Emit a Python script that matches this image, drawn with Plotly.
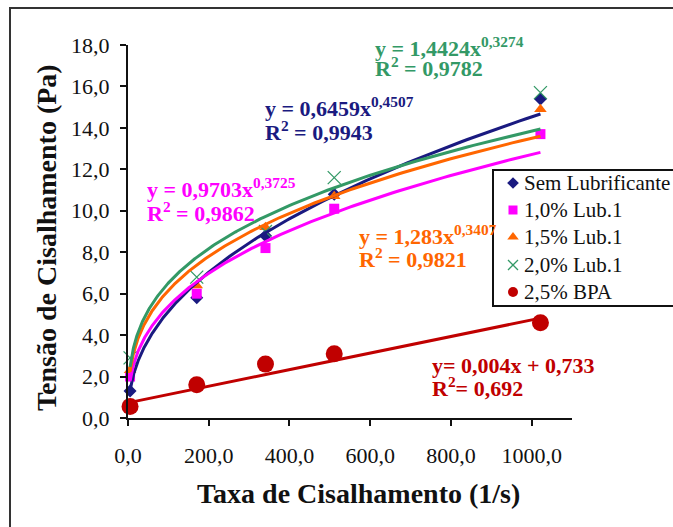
import numpy as np
import plotly.graph_objects as go

# Shear rate (1/s) of the rotational viscometer readings
shear_rate = [5.11, 170.3, 340.6, 510.9, 1021.8]

# Shear stress (Pa) for each formulation
series_names = ["Sem Lubrificante", "1,0% Lub.1", "1,5% Lub.1", "2,0% Lub.1", "2,5% BPA"]
stress_sem = [1.3, 5.8, 8.8, 10.8, 15.4]
stress_lub10 = [2.0, 6.0, 8.2, 10.1, 13.7]
stress_lub15 = [2.3, 6.4, 9.2, 10.7, 14.9]
stress_lub20 = [2.9, 6.8, 9.0, 11.6, 15.7]
stress_bpa = [0.55, 1.6, 2.6, 3.1, 4.6]

# Power-law trendlines y = a * x^b and their R²
power_a = [0.6459, 0.9703, 1.283, 1.4424]
power_b = [0.4507, 0.3725, 0.3407, 0.3274]
power_r2 = [0.9943, 0.9862, 0.9821, 0.9782]
# Linear trendline y = m * x + c for the BPA series
lin_m, lin_c, lin_r2 = 0.004, 0.733, 0.692

# Axis ticks
x_ticks = [0, 200, 400, 600, 800, 1000]
x_tick_labels = ["0,0", "200,0", "400,0", "600,0", "800,0", "1000,0"]
y_ticks = [0, 2, 4, 6, 8, 10, 12, 14, 16, 18]
y_tick_labels = ["0,0", "2,0", "4,0", "6,0", "8,0", "10,0", "12,0", "14,0", "16,0", "18,0"]

colors = ["#1a1a80", "#ff00ff", "#ff6600", "#339966", "#c00000"]
symbols = ["diamond", "square", "triangle-up", "x-thin-open", "circle"]
sizes = [10, 10, 11, 13, 17]
legend_sizes = [9, 9, 10, 10, 10]
all_stress = [stress_sem, stress_lub10, stress_lub15, stress_lub20, stress_bpa]

FONT = "Liberation Serif, Times New Roman, serif"
INK = "#111111"
W, H = 673, 527
ML, MR, MT, MB = 128, 101, 45, 109
PW, PH = W - ML - MR, H - MT - MB


def px_to_paper(px, py):
    return (px - ML) / PW, (H - MB - py) / PH


def dec(v):
    return str(v).replace(".", ",")


def marker_style(sym, size, col):
    m = dict(symbol=sym, size=size, color=col)
    if sym.endswith("open"):
        m["line"] = dict(color=col, width=1.3)
    return m


fig = go.Figure()

# Measured points
for name, ys, col, sym, sz in zip(series_names, all_stress, colors, symbols, sizes):
    fig.add_trace(go.Scatter(x=shear_rate, y=ys, mode="markers", name=name,
                             marker=marker_style(sym, sz, col), cliponaxis=False,
                             showlegend=False))

# Trendlines over the measured range
xf = np.geomspace(shear_rate[0], shear_rate[-1], 300)
for a, b, col in zip(power_a, power_b, colors[:4]):
    fig.add_trace(go.Scatter(x=xf, y=a * xf ** b, mode="lines", showlegend=False,
                             hoverinfo="skip", line=dict(color=col, width=3)))
fig.add_trace(go.Scatter(x=xf, y=lin_m * xf + lin_c, mode="lines", showlegend=False,
                         hoverinfo="skip", line=dict(color=colors[4], width=3)))

# Trendline equations (left x, centre y of both lines, in pixels)
label_pos = {
    0: (263, 107, 131),
    1: (145, 188, 212),
    2: (357, 235, 258),
    3: (373, 47, 67),
}
annotations = []
for i in range(4):
    lx, y1, y2 = label_pos[i]
    eq = f"y = {dec(power_a[i])}x<sup>{dec(power_b[i])}</sup>"
    r2 = f"R<sup>2</sup> = {dec(power_r2[i])}"
    for txt, yy in ((eq, y1), (r2, y2)):
        xp, yp = px_to_paper(lx, yy)
        annotations.append(dict(x=xp, y=yp, xref="paper", yref="paper", text=txt,
                                showarrow=False, xanchor="left", yanchor="middle",
                                font=dict(family=FONT, size=22, color=colors[i], weight="bold")))
for txt, yy in ((f"y= {dec(lin_m)}x + {dec(lin_c)}", 365), (f"R<sup>2</sup>= {dec(lin_r2)}", 387)):
    xp, yp = px_to_paper(430, yy)
    annotations.append(dict(x=xp, y=yp, xref="paper", yref="paper", text=txt,
                            showarrow=False, xanchor="left", yanchor="middle",
                            font=dict(family=FONT, size=22, color=colors[4], weight="bold")))

# Axis titles
xp, yp = px_to_paper(358, 494)
annotations.append(dict(x=xp, y=yp, xref="paper", yref="paper",
                        text="Taxa de Cisalhamento (1/s)", showarrow=False,
                        xanchor="center", yanchor="middle",
                        font=dict(family=FONT, size=28, color=INK, weight="bold")))
xp, yp = px_to_paper(46, 238)
annotations.append(dict(x=xp, y=yp, xref="paper", yref="paper", textangle=-90,
                        text="Tensão de Cisalhamento (Pa)", showarrow=False,
                        xanchor="center", yanchor="middle",
                        font=dict(family=FONT, size=28, color=INK, weight="bold")))

# Legend: box, key symbols and labels (pixel layout)
LEG_LEFT, LEG_TOP, LEG_BOTTOM = 493, 170, 306
LEG_KEY_X, LEG_TEXT_X = 513, 522
leg_rows = [183, 210, 237, 265, 292]
for name, ry in zip(series_names, leg_rows):
    xp, yp = px_to_paper(LEG_TEXT_X, ry)
    annotations.append(dict(x=xp, y=yp, xref="paper", yref="paper", text=name,
                            showarrow=False, xanchor="left", yanchor="middle",
                            font=dict(family=FONT, size=21, color=INK)))
for col, sym, lsz, ry in zip(colors, symbols, legend_sizes, leg_rows):
    fig.add_trace(go.Scatter(x=[LEG_KEY_X], y=[ry], xaxis="x2", yaxis="y2", mode="markers",
                             marker=marker_style(sym, lsz, col), showlegend=False,
                             hoverinfo="skip", cliponaxis=False))

# Outer chart frame and legend box
fx0, fy1 = px_to_paper(10, 8)
fx1, fy0 = px_to_paper(760, 600)
bx0, by1 = px_to_paper(LEG_LEFT, LEG_TOP)
bx1, by0 = px_to_paper(760, LEG_BOTTOM)
shapes = [
    dict(type="rect", xref="paper", yref="paper", x0=fx0, x1=fx1, y0=fy0, y1=fy1,
         line=dict(color="#333333", width=2), layer="below"),
    dict(type="rect", xref="paper", yref="paper", x0=bx0, x1=bx1, y0=by0, y1=by1,
         line=dict(color=INK, width=2), fillcolor="white", layer="below"),
]

axis_common = dict(showgrid=False, zeroline=False, showline=True, linecolor=INK, linewidth=2,
                   ticks="outside", ticklen=6, tickwidth=2, tickcolor=INK,
                   tickfont=dict(family=FONT, size=22, color=INK))

fig.update_layout(
    width=W, height=H,
    margin=dict(l=ML, r=MR, t=MT, b=MB, autoexpand=False),
    paper_bgcolor="white", plot_bgcolor="white",
    font=dict(family=FONT, color=INK),
    annotations=annotations, shapes=shapes, showlegend=False,
    xaxis=dict(range=[0, 1100], tickvals=x_ticks, ticktext=x_tick_labels,
               ticklabelstandoff=11, **axis_common),
    yaxis=dict(range=[0, 18], tickvals=y_ticks, ticktext=y_tick_labels,
               ticklabelstandoff=6, **axis_common),
    # pixel-scaled overlay used only to place the legend keys
    xaxis2=dict(overlaying="x", range=[ML, W - MR], visible=False, fixedrange=True),
    yaxis2=dict(overlaying="y", range=[H - MB, MT], visible=False, fixedrange=True),
)

fig.write_html("out.html")
